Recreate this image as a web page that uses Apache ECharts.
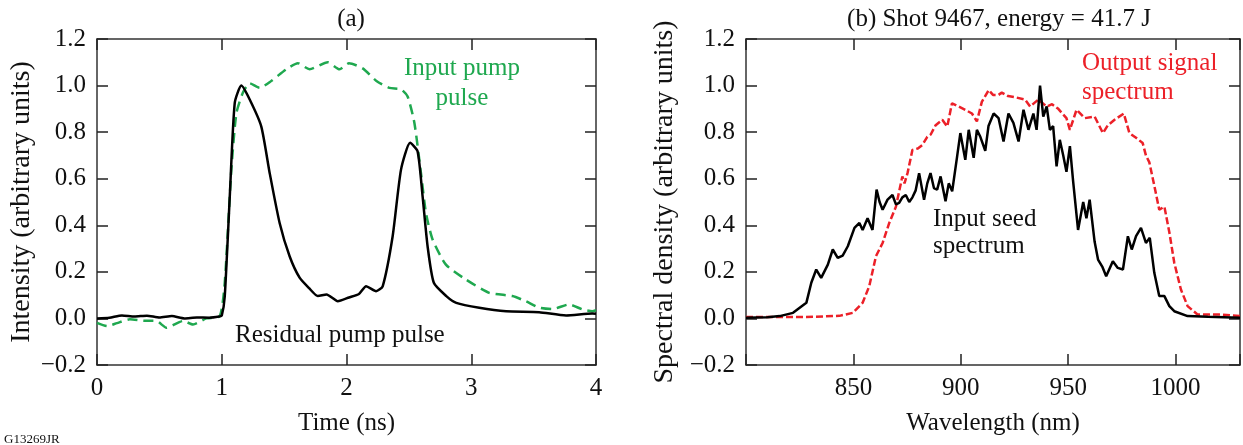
<!DOCTYPE html>
<html>
<head>
<meta charset="utf-8">
<script src="https://cdn.jsdelivr.net/npm/echarts@6/dist/echarts.min.js"></script>
<style>html,body{margin:0;padding:0;background:#fff;}#c{width:1243px;height:445px;}</style>
</head>
<body>
<div id="c"></div>
<script>
// ---- Data ----
const timeTicks = [0, 1, 2, 3, 4];
const wavelengthTicks = [850, 900, 950, 1000];
const residualPump = [[0,0.0],[0.1,0.003],[0.2,0.013],[0.3,0.008],[0.4,0.012],[0.5,0.004],[0.6,0.01],[0.7,0.0],[0.8,0.004],[0.9,0.003],[0.98,0.008],[1.0,0.012],[1.024,0.094],[1.064,0.52],[1.104,0.925],[1.157,1.0],[1.224,0.94],[1.317,0.824],[1.384,0.625],[1.464,0.41],[1.544,0.267],[1.624,0.175],[1.70,0.13],[1.77,0.096],[1.84,0.103],[1.93,0.074],[2.02,0.09],[2.1,0.105],[2.157,0.138],[2.237,0.117],[2.29,0.138],[2.37,0.353],[2.437,0.639],[2.51,0.754],[2.57,0.717],[2.61,0.524],[2.65,0.31],[2.70,0.153],[2.80,0.096],[2.88,0.067],[3.064,0.046],[3.28,0.031],[3.544,0.027],[3.76,0.013],[3.97,0.021],[4.0,0.02]];
const inputPump = [[0,-0.019],[0.08,-0.033],[0.16,-0.02],[0.264,-0.004],[0.37,-0.01],[0.477,-0.011],[0.557,-0.04],[0.69,-0.011],[0.77,-0.026],[0.877,0.0],[0.984,0.01],[1.024,0.153],[1.077,0.639],[1.117,0.88],[1.17,0.97],[1.224,1.01],[1.304,0.99],[1.397,1.02],[1.517,1.07],[1.61,1.096],[1.704,1.07],[1.85,1.10],[1.944,1.07],[2.02,1.096],[2.13,1.074],[2.24,1.02],[2.344,0.99],[2.437,0.984],[2.49,0.953],[2.544,0.84],[2.597,0.624],[2.637,0.453],[2.69,0.339],[2.797,0.231],[2.957,0.167],[3.144,0.11],[3.33,0.096],[3.437,0.074],[3.544,0.046],[3.65,0.04],[3.784,0.06],[3.89,0.039],[3.97,0.031],[4.0,0.035]];
const inputSeed = [[800,0.003],[810,0.005],[815.7,0.01],[821.9,0.024],[828.1,0.067],[830.4,0.153],[832.7,0.21],[835,0.174],[838.1,0.231],[840.4,0.296],[842.7,0.26],[845,0.27],[847.4,0.31],[850.5,0.389],[852.8,0.41],[854.3,0.38],[856.6,0.43],[858.9,0.38],[860.8,0.553],[862.2,0.50],[863.6,0.467],[865.9,0.51],[868.2,0.53],[869.8,0.49],[871.3,0.496],[872.8,0.52],[874.4,0.53],[876,0.5],[877.5,0.52],[879,0.55],[880.6,0.624],[882.9,0.51],[884.4,0.58],[885.9,0.624],[887.5,0.56],[889,0.553],[890.6,0.61],[892.9,0.503],[894.4,0.58],[896,0.546],[898.3,0.696],[899.8,0.796],[902.1,0.681],[903.7,0.81],[906,0.69],[907.5,0.81],[909.1,0.78],[911.4,0.72],[912.9,0.826],[915.3,0.88],[917.6,0.86],[919.9,0.76],[922.2,0.88],[924.5,0.84],[926.9,0.76],[929.2,0.896],[931.5,0.81],[933.8,0.88],[935.3,0.81],[936.9,1.0],[938.4,0.867],[940,0.91],[941.5,0.81],[943,0.826],[944.6,0.653],[946.1,0.767],[947.7,0.70],[949.2,0.63],[950.8,0.74],[952.3,0.59],[954.6,0.38],[957,0.50],[958.5,0.43],[960,0.51],[962.3,0.33],[963.9,0.253],[966,0.22],[967.7,0.181],[970.8,0.246],[973.1,0.217],[975.5,0.21],[977.8,0.353],[979.6,0.296],[981.6,0.353],[983.9,0.389],[986.2,0.324],[988,0.346],[990.1,0.196],[992.4,0.096],[994.8,0.096],[997.1,0.053],[999.4,0.031],[1005.6,0.01],[1015,0.007],[1030,0.003]];
const outputSignal = [[800,0.006],[828,0.006],[843.5,0.011],[849.7,0.024],[854.3,0.067],[857.4,0.139],[860.5,0.267],[863.6,0.324],[866.7,0.41],[869.8,0.48],[872.8,0.61],[873.8,0.58],[875.2,0.624],[877.5,0.724],[880,0.73],[882.1,0.745],[884.4,0.78],[886,0.79],[888.3,0.83],[891.4,0.853],[893.7,0.824],[895.9,0.924],[899,0.91],[902.1,0.896],[905.2,0.88],[907.5,0.846],[909.8,0.93],[913,0.981],[915,0.96],[917.6,0.96],[919.1,0.97],[922,0.955],[925.3,0.95],[929.9,0.94],[932.3,0.91],[936.1,0.94],[940,0.91],[942.5,0.92],[945.4,0.90],[949.2,0.86],[950.8,0.81],[953.9,0.896],[957.7,0.86],[962.3,0.867],[966.2,0.796],[968.5,0.83],[971.6,0.853],[975.9,0.88],[978.5,0.796],[981.6,0.776],[984.7,0.753],[986.2,0.70],[987.8,0.67],[990.1,0.57],[992.4,0.467],[994.8,0.48],[997.1,0.37],[999.4,0.239],[1002.5,0.124],[1005.6,0.053],[1010.2,0.017],[1021,0.017],[1030,0.01]];

// ---- Styles ----
const FONT = 'Liberation Serif';
const FS = 25;
const NFS = 28;
const GREEN = '#1fa84f';
const RED = '#ec2028';
const AX = { onZero: false, lineStyle: { color: '#333', width: 1.5 } };
const TICK = { inside: true, length: 11, lineStyle: { color: '#222', width: 1.5 } };

function yfmt(v) {
  const r = Math.round(v * 10) / 10;
  return r < 0 ? '\u2212' + Math.abs(r).toFixed(1) : r.toFixed(1);
}

function xAxes(gi, min, max, interval, ticks, name, gap) {
  return [
    { gridIndex: gi, type: 'value', min, max, interval, position: 'bottom',
      axisLine: AX, axisTick: TICK, splitLine: { show: false },
      axisLabel: { margin: 11, fontFamily: FONT, fontSize: FS, color: '#111',
        formatter: v => ticks.includes(Math.round(v)) && Math.abs(v - Math.round(v)) < 1e-6 ? String(Math.round(v)) : '' },
      name, nameLocation: 'middle', nameGap: 46,
      nameTextStyle: { fontFamily: FONT, fontSize: FS, color: '#111' } },
    { gridIndex: gi, type: 'value', min, max, interval, position: 'top',
      axisLine: AX, axisTick: TICK, splitLine: { show: false }, axisLabel: { show: false } }
  ];
}
function yAxes(gi, name, gap) {
  return [
    { gridIndex: gi, type: 'value', min: -0.2, max: 1.2, interval: 0.2, position: 'left',
      axisLine: AX, axisTick: TICK, splitLine: { show: false },
      axisLabel: { margin: 11, fontFamily: FONT, fontSize: FS, color: '#111', formatter: yfmt },
      name, nameLocation: 'middle', nameGap: gap,
      nameTextStyle: { fontFamily: FONT, fontSize: NFS, color: '#111' } },
    { gridIndex: gi, type: 'value', min: -0.2, max: 1.2, interval: 0.2, position: 'right',
      axisLine: AX, axisTick: TICK, splitLine: { show: false }, axisLabel: { show: false } }
  ];
}
function txt(x, y, text, color, align) {
  return { type: 'text', x, y, silent: true,
    style: { text, fill: color, fontFamily: FONT, fontSize: FS, textAlign: align, textVerticalAlign: 'middle' } };
}

const chart = echarts.init(document.getElementById('c'), null, { renderer: 'canvas' });
chart.setOption({
  animation: false,
  backgroundColor: '#fff',
  title: [
    { text: '(a)', left: 346, top: 2, textAlign: 'center',
      textStyle: { fontFamily: FONT, fontSize: FS, fontWeight: 'normal', color: '#111' } },
    { text: '(b) Shot 9467, energy = 41.7 J', left: 994, top: 2, textAlign: 'center',
      textStyle: { fontFamily: FONT, fontSize: FS, fontWeight: 'normal', color: '#111' } }
  ],
  grid: [
    { left: 97, top: 39, width: 499, height: 326 },
    { left: 746, top: 39, width: 496, height: 326 }
  ],
  xAxis: [
    ...xAxes(0, 0, 4, 1, timeTicks, 'Time (ns)'),
    ...xAxes(1, 800, 1030, 50, wavelengthTicks, 'Wavelength (nm)')
  ],
  yAxis: [
    ...yAxes(0, 'Intensity (arbitrary units)', 61),
    ...yAxes(1, 'Spectral density (arbitrary units)', 67)
  ],
  series: [
    { type: 'line', xAxisIndex: 0, yAxisIndex: 0, data: inputPump, showSymbol: false, smooth: 0.2,
      lineStyle: { color: GREEN, width: 2.5, type: [10, 6] } },
    { type: 'line', xAxisIndex: 0, yAxisIndex: 0, data: residualPump, showSymbol: false, smooth: 0.2,
      lineStyle: { color: '#000', width: 2.5 } },
    { type: 'line', xAxisIndex: 2, yAxisIndex: 2, data: outputSignal, showSymbol: false,
      lineStyle: { color: RED, width: 2.5, type: [7, 3] } },
    { type: 'line', xAxisIndex: 2, yAxisIndex: 2, data: inputSeed, showSymbol: false,
      lineStyle: { color: '#000', width: 2.5 } }
  ],
  graphic: [
    txt(462, 68, 'Input pump', GREEN, 'center'),
    txt(462, 98, 'pulse', GREEN, 'center'),
    txt(235, 335, 'Residual pump pulse', '#111', 'left'),
    txt(1082, 63, 'Output signal', RED, 'left'),
    txt(1082, 92, 'spectrum', RED, 'left'),
    txt(933, 219, 'Input seed', '#111', 'left'),
    txt(933, 246, 'spectrum', '#111', 'left'),
    { type: 'text', x: 4, y: 433, silent: true,
      style: { text: 'G13269JR', fill: '#111', fontFamily: FONT, fontSize: 13 } }
  ]
});
</script>
</body>
</html>
